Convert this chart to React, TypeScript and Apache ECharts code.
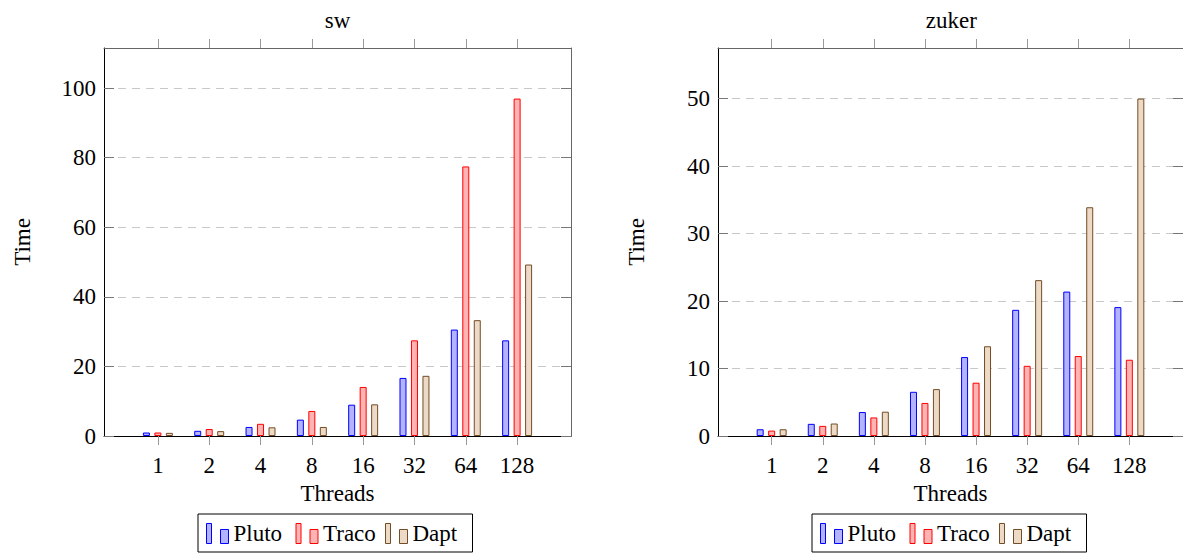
import React, { useEffect, useRef } from "react";
import * as echarts from "echarts";

// ---- data ----
const threads = ["1", "2", "4", "8", "16", "32", "64", "128"];
const seriesNames = ["Pluto", "Traco", "Dapt"];

const swTitle = "sw";
const swPluto = [1.0, 1.5, 2.6, 4.7, 9.0, 16.7, 30.6, 27.5];
const swTraco = [1.0, 2.0, 3.5, 7.2, 14.1, 27.5, 77.5, 97.0];
const swDapt = [0.9, 1.4, 2.5, 2.6, 9.1, 17.3, 33.3, 49.3];
const swYTicks = [0, 20, 40, 60, 80, 100];

const zukerTitle = "zuker";
const zukerPluto = [1.0, 1.8, 3.55, 6.55, 11.7, 18.7, 21.4, 19.1];
const zukerTraco = [0.8, 1.5, 2.75, 4.9, 7.9, 10.4, 11.85, 11.3];
const zukerDapt = [1.0, 1.85, 3.6, 6.95, 13.3, 23.1, 33.9, 50.0];
const zukerYTicks = [0, 10, 20, 30, 40, 50];

const xLabel = "Threads";
const yLabel = "Time";

// ---- style ----
const FONT = "Liberation Serif";
const FS = 23;
const fills = ["#b3b3ff", "#ffb3b3", "#ecd9c6"];
const strokes = ["#0000ff", "#ff0000", "#734d26"];
const tickIdx = threads.map((_, i) => i);

const panels = [
  { title: swTitle, data: [swPluto, swTraco, swDapt], yTicks: swYTicks, yMax: 97.0 * 1.15, yInterval: 20, left: 104, width: 467, legendLeft: 198 },
  { title: zukerTitle, data: [zukerPluto, zukerTraco, zukerDapt], yTicks: zukerYTicks, yMax: 50.0 * 1.15, yInterval: 10, left: 718, width: 466.7, legendLeft: 812 },
];

const TOP = 48;
const HEIGHT = 388;
const legendWidths = [57, 57, 52];

function buildOption() {
  const grid: any[] = [];
  const xAxis: any[] = [];
  const yAxis: any[] = [];
  const series: any[] = [];
  const legend: any[] = [];
  const graphic: any[] = [];

  const rich: any = {};
  seriesNames.forEach((_, k) => {
    rich["w" + k] = { width: legendWidths[k], fontFamily: FONT, fontSize: FS, color: "#000", lineHeight: 28 };
  });

  panels.forEach((p, gi) => {
    grid.push({ left: p.left, top: TOP, width: p.width, height: HEIGHT, show: false, containLabel: false });
    const xBase = {
      gridIndex: gi,
      type: "value",
      min: -1.05,
      max: 8.05,
      splitLine: { show: false },
    };
    xAxis.push({
      ...xBase,
      position: "bottom",
      axisLine: { show: true, onZero: false, lineStyle: { color: "#000", width: 1 } },
      axisTick: { show: true, inside: false, length: 9, customValues: tickIdx, lineStyle: { color: "#999" } },
      axisLabel: {
        show: true,
        customValues: tickIdx,
        formatter: (v: number) => threads[Math.round(v)] ?? "",
        margin: 18,
        fontFamily: FONT,
        fontSize: FS,
        color: "#000",
      },
      name: xLabel,
      nameLocation: "middle",
      nameGap: 41,
      nameTextStyle: { fontFamily: FONT, fontSize: FS, color: "#000" },
    });
    xAxis.push({
      ...xBase,
      position: "top",
      axisLine: { show: true, onZero: false, lineStyle: { color: "#666", width: 1 } },
      axisTick: { show: true, inside: false, length: 9, customValues: tickIdx, lineStyle: { color: "#999" } },
      axisLabel: { show: false },
    });
    const yBase = {
      gridIndex: gi,
      type: "value",
      min: 0,
      max: p.yMax,
      interval: p.yInterval,
    };
    yAxis.push({
      ...yBase,
      position: "left",
      axisLine: { show: true, onZero: false, lineStyle: { color: "#000", width: 1 } },
      axisTick: { show: true, inside: true, length: 10, customValues: p.yTicks, lineStyle: { color: "#777" } },
      axisLabel: {
        show: true,
        customValues: p.yTicks,
        formatter: (v: number) => String(v),
        margin: 8,
        fontFamily: FONT,
        fontSize: FS,
        color: "#000",
      },
      splitLine: { show: true, lineStyle: { color: "#c8c8c8", type: [8, 6], width: 1 } },
      name: yLabel,
      nameLocation: "middle",
      nameRotate: 90,
      nameGap: 70,
      nameTextStyle: { fontFamily: FONT, fontSize: FS, color: "#000" },
    });
    yAxis.push({
      ...yBase,
      position: "right",
      axisLine: { show: true, onZero: false, lineStyle: { color: "#666", width: 1 } },
      axisTick: { show: true, inside: true, length: 10, customValues: p.yTicks, lineStyle: { color: "#777" } },
      axisLabel: { show: false },
      splitLine: { show: false },
    });

    p.data.forEach((vals, si) => {
      series.push({
        type: "bar",
        name: seriesNames[si],
        xAxisIndex: gi * 2,
        yAxisIndex: gi * 2,
        data: vals.map((v, i) => [i, v]),
        barWidth: 7,
        barGap: "64%",
        itemStyle: { color: fills[si], borderColor: strokes[si], borderWidth: 1 },
        silent: true,
      });
    });

    legend.push({
      left: p.legendLeft,
      top: 514,
      orient: "horizontal",
      itemWidth: 22,
      itemHeight: 20,
      itemGap: 5,
      padding: [8, 8, 7, 8],
      borderColor: "#000",
      borderWidth: 1,
      icon: "path://M0,0h5v20h-5zM14,6h8v14h-8z",
      selectedMode: false,
      itemStyle: { borderWidth: 1 },
      textStyle: { fontFamily: FONT, fontSize: FS, color: "#000", rich },
      formatter: (name: string) => `{w${seriesNames.indexOf(name)}|${name}}`,
      data: seriesNames,
    });

    graphic.push({
      type: "text",
      x: p.left + p.width / 2,
      y: 20,
      style: { text: p.title, align: "center", verticalAlign: "middle", fontFamily: FONT, fontSize: FS, fill: "#000" },
      silent: true,
    });
  });

  return {
    animation: false,
    backgroundColor: "#fff",
    grid,
    xAxis,
    yAxis,
    series,
    legend,
    graphic,
  };
}

export default function App() {
  const ref = useRef<HTMLDivElement>(null);
  useEffect(() => {
    if (!ref.current) return;
    const chart = echarts.init(ref.current, undefined, { renderer: "svg" });
    chart.setOption(buildOption() as any);
    return () => chart.dispose();
  }, []);
  return (
    <div
      ref={ref}
      style={{ position: "fixed", left: 0, top: 0, width: 1183, height: 554, background: "#fff" }}
    />
  );
}
